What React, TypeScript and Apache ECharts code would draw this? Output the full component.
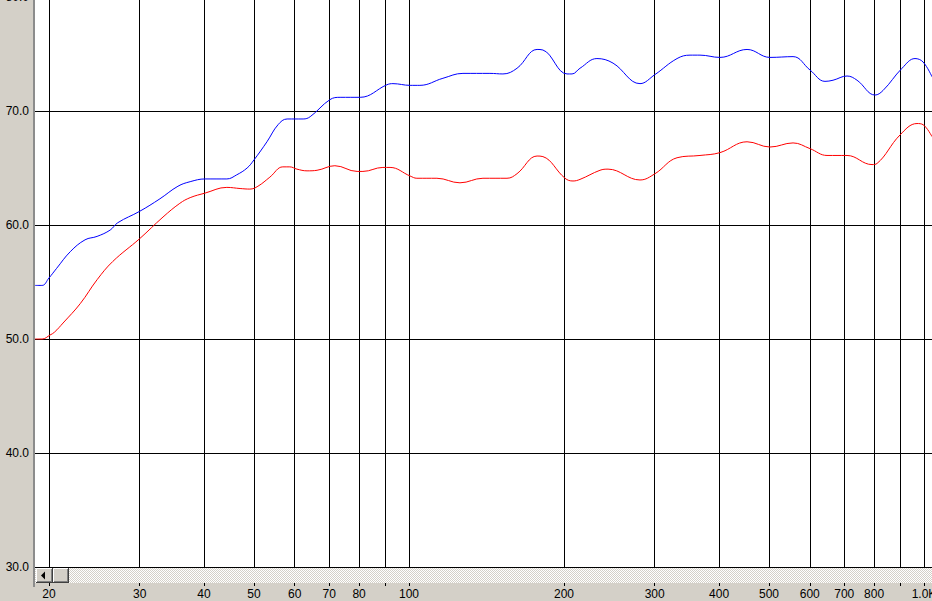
import React, { useEffect, useRef } from "react";
import * as echarts from "echarts";

const blueFreq = [18.8, 19.4, 20.0, 20.7, 22.0, 23.5, 24.8, 26.3, 27.2, 30.0, 32.85, 35.6, 37.6, 40.2, 44.3, 46.3, 48.5, 50.0, 53.0, 55.7, 58.0, 62.3, 64.3, 70.25, 73.5, 80.4, 90.6, 93.1, 100.5, 105.0, 116.4, 127.3, 143.6, 152.2, 162.1, 177.3, 182.0, 202.7, 207.3, 214.8, 231.7, 249.0, 280.9, 300.4, 331.5, 351.3, 367.3, 401.7, 453.3, 502.3, 556.8, 600.5, 642.3, 665.8, 708.8, 741.2, 803.4, 832.6, 906.4, 960.5, 995.6, 1036.3];
const blueVal = [54.7, 54.7, 55.35, 56.2, 57.66, 58.7, 59.0, 59.56, 60.2, 61.2, 62.3, 63.4, 63.8, 64.04, 64.04, 64.4, 65.0, 65.7, 67.3, 68.8, 69.3, 69.3, 69.5, 71.0, 71.2, 71.2, 72.3, 72.4, 72.25, 72.25, 72.87, 73.3, 73.3, 73.25, 73.75, 75.4, 75.35, 73.25, 73.25, 73.75, 74.6, 74.2, 72.4, 73.2, 74.6, 74.9, 74.9, 74.7, 75.4, 74.7, 74.77, 73.6, 72.6, 72.7, 73.07, 72.7, 71.4, 71.8, 73.75, 74.6, 74.3, 73.0];

const redFreq = [18.8, 19.4, 20.1, 20.5, 21.3, 23.0, 24.8, 26.6, 30.0, 33.3, 35.9, 37.6, 40.2, 44.3, 47.0, 49.1, 50.9, 53.7, 56.9, 58.7, 60.6, 63.4, 66.3, 71.8, 79.3, 81.4, 89.0, 91.9, 100.5, 103.6, 113.3, 125.6, 139.2, 155.0, 162.1, 177.3, 182.0, 200.9, 208.2, 214.8, 234.9, 243.5, 280.9, 300.4, 331.5, 367.3, 401.7, 453.3, 502.3, 556.8, 600.5, 648.1, 708.8, 792.5, 810.6, 898.3, 969.1, 995.6, 1036.3];
const redVal = [50.0, 50.0, 50.35, 50.6, 51.4, 53.1, 55.2, 56.8, 58.8, 60.7, 61.9, 62.4, 62.8, 63.3, 63.2, 63.15, 63.4, 64.2, 65.1, 65.1, 64.9, 64.75, 64.8, 65.2, 64.7, 64.7, 65.05, 65.05, 64.3, 64.1, 64.1, 63.7, 64.1, 64.1, 64.5, 66.05, 66.0, 64.1, 63.86, 64.0, 64.8, 64.9, 63.95, 64.5, 65.9, 66.1, 66.35, 67.3, 66.84, 67.2, 66.7, 66.1, 66.1, 65.3, 65.4, 67.9, 68.9, 68.8, 67.75];

const xTickValues = [20, 30, 40, 50, 60, 70, 80, 90, 100, 200, 300, 400, 500, 600, 700, 800, 900, 1000];
const xLabelValues = [20, 30, 40, 50, 60, 70, 80, 100, 200, 300, 400, 500, 600, 700, 800, 1000];
const xMin = 18.79;
const xMax = 1036.3;
const yMin = 30;
const yMax = 80;
const yStep = 10;

const FONT = "'Liberation Sans', Arial, sans-serif";

function bevel(x: number, y: number, w: number, h: number) {
  return [
    { type: "rect", shape: { x, y, width: w, height: h }, style: { fill: "#D4D0C8" } },
    { type: "line", shape: { x1: x + 0.5, y1: y + 0.5, x2: x + w - 1, y2: y + 0.5 }, style: { stroke: "#FFFFFF", lineWidth: 1 } },
    { type: "line", shape: { x1: x + 0.5, y1: y + 0.5, x2: x + 0.5, y2: y + h - 1 }, style: { stroke: "#FFFFFF", lineWidth: 1 } },
    { type: "line", shape: { x1: x, y1: y + h - 0.5, x2: x + w, y2: y + h - 0.5 }, style: { stroke: "#404040", lineWidth: 1 } },
    { type: "line", shape: { x1: x + w - 0.5, y1: y, x2: x + w - 0.5, y2: y + h }, style: { stroke: "#404040", lineWidth: 1 } },
    { type: "line", shape: { x1: x + 1, y1: y + h - 1.5, x2: x + w - 1, y2: y + h - 1.5 }, style: { stroke: "#808080", lineWidth: 1 } },
    { type: "line", shape: { x1: x + w - 1.5, y1: y + 1, x2: x + w - 1.5, y2: y + h - 1 }, style: { stroke: "#808080", lineWidth: 1 } },
  ];
}

export default function App() {
  const ref = useRef<HTMLDivElement>(null);
  useEffect(() => {
    if (!ref.current) return;
    const chart = echarts.init(ref.current, undefined, { renderer: "svg" });

    let patternUrl = "";
    try {
      const c = document.createElement("canvas");
      c.width = 2;
      c.height = 2;
      const ctx = c.getContext("2d");
      if (ctx) {
        ctx.fillStyle = "#D4D0C8";
        ctx.fillRect(0, 0, 2, 2);
        ctx.fillStyle = "#FFFFFF";
        ctx.fillRect(1, 0, 1, 1);
        ctx.fillRect(0, 1, 1, 1);
        patternUrl = c.toDataURL();
      }
    } catch (e) {
      patternUrl = "";
    }

    const graphics: any[] = [
      { type: "rect", shape: { x: 33, y: 0, width: 2, height: 587 }, style: { fill: "#8C8C8C" }, z: 10 },
      { type: "rect", shape: { x: 35, y: 568, width: 897, height: 15 }, style: { fill: "#EAE8E4" }, z: 10 },
    ];
    if (patternUrl) {
      graphics.push({
        type: "rect",
        shape: { x: 35, y: 568, width: 897, height: 15 },
        style: { fill: { image: patternUrl, repeat: "repeat" } as any },
        z: 10,
      });
    }
    graphics.push(...bevel(36, 568, 17, 15).map((g) => ({ ...g, z: 11 })));
    graphics.push({
      type: "polygon",
      shape: { points: [[41, 575.5], [45, 571.5], [45, 579.5]] },
      style: { fill: "#000000" },
      z: 12,
    });
    graphics.push(...bevel(53, 568, 16, 15).map((g) => ({ ...g, z: 11 })));

    chart.setOption({
      animation: false,
      backgroundColor: "#D4D0C8",
      grid: {
        left: 35,
        right: 0,
        top: -3,
        bottom: 34,
        show: true,
        backgroundColor: "#FFFFFF",
        borderWidth: 0,
        containLabel: false,
        outerBoundsMode: "none",
      },
      xAxis: {
        type: "log",
        min: xMin,
        max: xMax,
        logBase: 10,
        position: "bottom",
        offset: 16,
        axisLine: { show: false },
        axisTick: {
          show: true,
          length: 3,
          inside: false,
          customValues: xTickValues,
          lineStyle: { color: "#000000", width: 1 },
        },
        axisLabel: {
          customValues: xLabelValues,
          margin: 5,
          color: "#000000",
          fontSize: 12,
          fontFamily: FONT,
          showMinLabel: true,
          showMaxLabel: true,
          hideOverlap: false,
          formatter: (v: number) => (v >= 1000 ? (v / 1000).toFixed(1) + "K" : String(Math.round(v))),
        },
        splitLine: { show: true, lineStyle: { color: "#000000", width: 1 } },
        minorTick: { show: false },
        minorSplitLine: { show: false },
      },
      yAxis: {
        type: "value",
        min: yMin,
        max: yMax,
        interval: yStep,
        axisLine: { show: false },
        axisTick: { show: false },
        axisLabel: {
          margin: 6,
          color: "#000000",
          fontSize: 12,
          fontFamily: FONT,
          showMaxLabel: true,
          formatter: (v: number) => v.toFixed(1),
        },
        splitLine: { show: true, lineStyle: { color: "#000000", width: 1 } },
      },
      series: [
        {
          type: "line",
          name: "blue",
          data: blueFreq.map((f, i) => [f, blueVal[i]]),
          smooth: 0.4,
          showSymbol: false,
          symbol: "none",
          clip: true,
          lineStyle: { color: "#0000FF", width: 1 },
          z: 5,
        },
        {
          type: "line",
          name: "red",
          data: redFreq.map((f, i) => [f, redVal[i]]),
          smooth: 0.4,
          showSymbol: false,
          symbol: "none",
          clip: true,
          lineStyle: { color: "#FF0000", width: 1 },
          z: 5,
        },
      ],
      graphic: graphics,
    });
    return () => chart.dispose();
  }, []);
  return (
    <div
      ref={ref}
      style={{ position: "fixed", left: 0, top: 0, width: 932, height: 601 }}
    />
  );
}
